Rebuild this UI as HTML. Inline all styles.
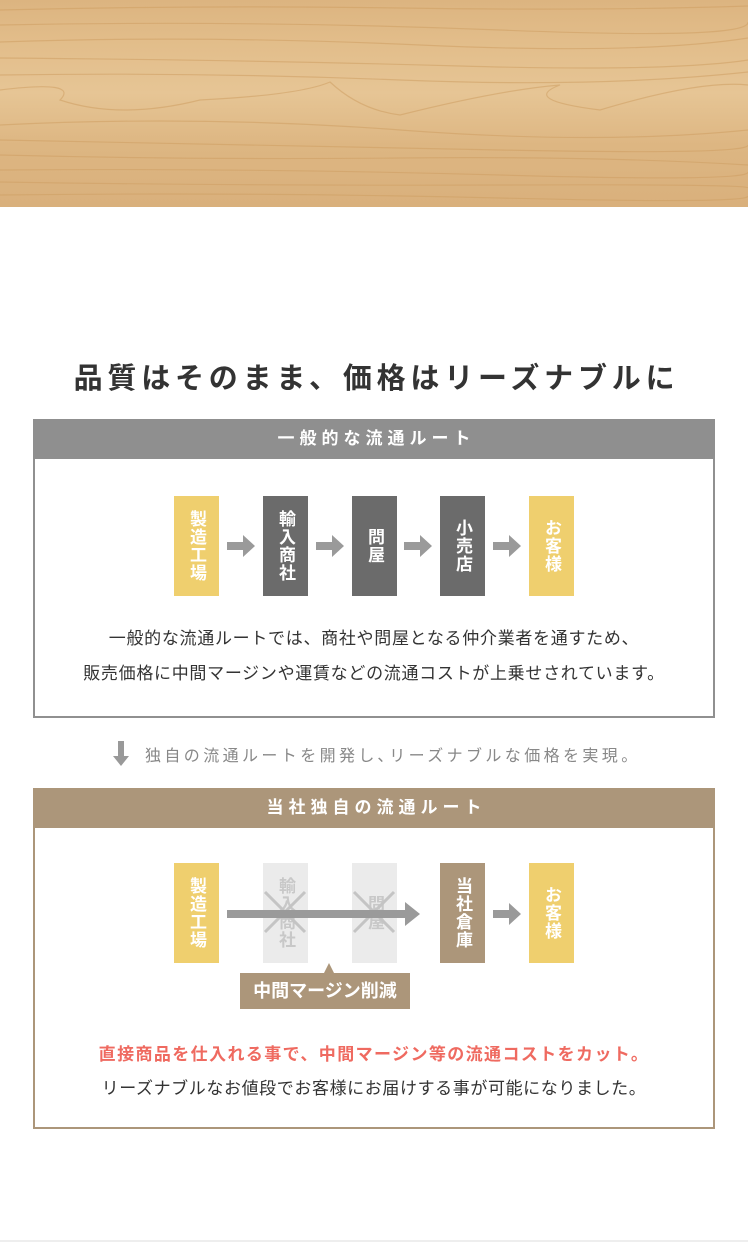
<!DOCTYPE html>
<html><head><meta charset="utf-8">
<style>
*{margin:0;padding:0;box-sizing:border-box}
body{width:748px;height:1250px;position:relative;background:#fff;font-family:"Liberation Sans","Noto Sans CJK JP",sans-serif;overflow:hidden;color:#333}
.a{position:absolute}
.wood{left:0;top:0;width:748px;height:207px;background:linear-gradient(180deg,#dcb480 0%,#e2bd8a 20%,#e6c595 45%,#ddb682 70%,#d9b07c 100%)}
.box{border:2px solid #909090;}
.hd{color:#fff;font-size:17px;font-weight:bold;text-align:center;line-height:40px;letter-spacing:5px}
.n{width:45px;height:100px;color:#fff;font-size:17px;font-weight:bold;display:flex;align-items:center;justify-content:center;writing-mode:vertical-rl;letter-spacing:1px;line-height:45px}
.y{background:#efcf6e}.g{background:#6b6b6b}.t{background:#ac967a}.l{background:#ebebeb;color:#c8c8c8}
.txt{left:0;width:748px;text-align:center;font-size:17px;letter-spacing:.7px}
</style></head><body>
<div class="a wood"></div>
<svg class="a" style="left:0;top:0" width="748" height="207">
<g fill="none" stroke="#cf9f63" stroke-width="1.2" opacity=".55">
<path d="M0 10 Q200 5 400 8 T748 6"/>
<path d="M0 25 Q250 20 500 30 T748 22"/>
<path d="M0 42 Q200 35 420 45 T748 38"/>
<path d="M0 58 Q250 60 460 66 T748 60"/>
<path d="M0 75 Q200 72 400 80 T748 72"/>
<path d="M0 90 Q80 80 60 100 Q120 120 200 100 Q300 95 330 82 Q360 110 400 115 Q500 90 560 85 Q520 100 600 110 Q700 80 748 85"/>
<path d="M0 125 Q200 115 400 130 T748 130"/>
<path d="M0 140 Q250 145 500 150 T748 145"/>
<path d="M0 155 Q200 160 400 158 T748 165"/>
<path d="M0 170 Q250 168 500 175 T748 172"/>
<path d="M0 182 Q250 186 500 185 T748 188"/>
<path d="M0 195 Q250 192 500 198 T748 196"/>
</g></svg>

<div class="a" style="left:0;top:355px;width:748px;text-align:center;font-size:29px;font-weight:bold;letter-spacing:4.8px;color:#333;padding-left:5px">品質はそのまま、価格はリーズナブルに</div>

<div class="a box" style="left:33px;top:419px;width:682px;height:299px"></div>
<div class="a hd" style="left:33px;top:419px;width:682px;height:40px;background:#8f8f8f;padding-left:5px">一般的な流通ルート</div>
<div class="a n y" style="left:174px;top:496px">製造工場</div>
<div class="a n g" style="left:263px;top:496px">輸入商社</div>
<div class="a n g" style="left:352px;top:496px">問屋</div>
<div class="a n g" style="left:440px;top:496px">小売店</div>
<div class="a n y" style="left:529px;top:496px">お客様</div>
<svg class="a" style="left:0;top:530px" width="748" height="32">
<g fill="#9a9a9a">
<path d="M227 12h16v-7l12 11-12 11v-7h-16z"/>
<path d="M316 12h16v-7l12 11-12 11v-7h-16z"/>
<path d="M404 12h16v-7l12 11-12 11v-7h-16z"/>
<path d="M493 12h16v-7l12 11-12 11v-7h-16z"/>
</g></svg>
<div class="a txt" style="top:624px">一般的な流通ルートでは、商社や問屋となる仲介業者を通すため、</div>
<div class="a txt" style="top:659px">販売価格に中間マージンや運賃などの流通コストが上乗せされています。</div>

<svg class="a" style="left:112px;top:741px" width="18" height="26"><path d="M6 0h6v15h5l-8 10-8-10h5z" fill="#999"/></svg>
<div class="a" style="left:145px;top:742px;font-size:16px;color:#888;letter-spacing:3.4px">独自の流通ルートを開発し､リーズナブルな価格を実現。</div>

<div class="a box" style="left:33px;top:788px;width:682px;height:341px;border-color:#ac967a"></div>
<div class="a hd" style="left:33px;top:788px;width:682px;height:40px;background:#ac967a;padding-left:5px">当社独自の流通ルート</div>
<div class="a n y" style="left:174px;top:863px">製造工場</div>
<div class="a n l" style="left:263px;top:863px">輸入商社</div>
<div class="a n l" style="left:352px;top:863px">問屋</div>
<div class="a n t" style="left:440px;top:863px">当社倉庫</div>
<div class="a n y" style="left:529px;top:863px">お客様</div>
<svg class="a" style="left:0;top:850px" width="748" height="130">
<g stroke="#c4c4c4" stroke-width="3">
<path d="M265 42l40 40M305 42l-40 40"/>
<path d="M354 42l40 40M394 42l-40 40"/>
</g>
<path d="M227 60h178v-8l15 12-15 12v-8h-178z" fill="#9a9a9a"/>
<path d="M493 60h16v-7l12 11-12 11v-7h-16z" fill="#9a9a9a"/>
<path d="M324 123l5-10 5 10z" fill="#ac967a"/>
</svg>
<div class="a" style="left:240px;top:973px;width:170px;height:36px;background:#ac967a;color:#fff;font-size:18px;font-weight:bold;text-align:center;line-height:36px">中間マージン削減</div>
<div class="a txt" style="top:1040px;color:#ef6a60;font-weight:bold;letter-spacing:1.4px">直接商品を仕入れる事で、中間マージン等の流通コストをカット。</div>
<div class="a txt" style="top:1074px;letter-spacing:.6px">リーズナブルなお値段でお客様にお届けする事が可能になりました。</div>

<div class="a" style="left:0;top:1240px;width:748px;height:2px;background:#eee"></div>
</body></html>
